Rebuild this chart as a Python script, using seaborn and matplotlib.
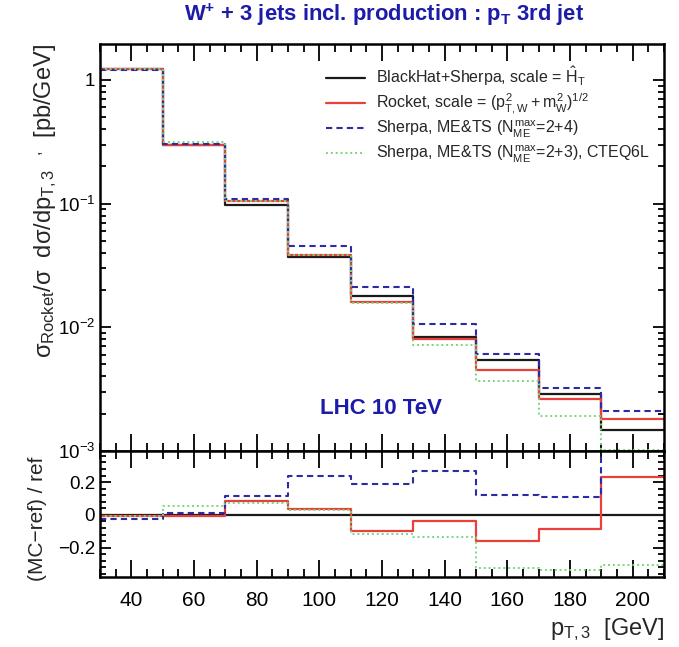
import numpy as np
import pandas as pd
import matplotlib
matplotlib.use("Agg")
import matplotlib.pyplot as plt
import seaborn as sns
from matplotlib.ticker import MultipleLocator, LogLocator, NullFormatter, FixedLocator, FixedFormatter

# p_T of the third jet: bin edges [GeV]
bin_edges = [30, 50, 70, 90, 110, 130, 150, 170, 190, 210]

# normalised differential cross sections [pb/GeV]
blackhat = [1.23, 0.298, 0.097, 0.037, 0.0178, 0.0083, 0.0054, 0.0029, 0.00147]
rocket = [1.218, 0.2965, 0.1053, 0.0384, 0.01604, 0.00798, 0.00453, 0.00265, 0.00181]
sherpa_24 = [1.199, 0.301, 0.1084, 0.0458, 0.0212, 0.01054, 0.00607, 0.00322, 0.00209]
sherpa_23 = [1.218, 0.315, 0.104, 0.0381, 0.01577, 0.0072, 0.00365, 0.00193, 0.00102]

series_labels = [
    r"BlackHat+Sherpa, scale = $\hat{H}_T$",
    r"Rocket, scale = $(p^2_{T,W} + m^2_W)^{1/2}$",
    r"Sherpa, ME&TS ($N^{max}_{ME}$=2+4)",
    r"Sherpa, ME&TS ($N^{max}_{ME}$=2+3), CTEQ6L",
]

sns.set_theme(style="ticks")
plt.rcParams["font.family"] = ["Liberation Sans", "DejaVu Sans"]
plt.rcParams["mathtext.fontset"] = "custom"
plt.rcParams["mathtext.rm"] = "Liberation Sans"
plt.rcParams["mathtext.it"] = "Liberation Sans"
plt.rcParams["mathtext.bf"] = "Liberation Sans:bold"

styles = [
    dict(color="#1a1a1a", linestyle="-", linewidth=1.6),
    dict(color="#e8403a", linestyle="-", linewidth=1.6),
    dict(color="#2b2ba6", linestyle=(0, (3, 2)), linewidth=1.5),
    dict(color="#7ad77a", linestyle=(0, (1, 1.5)), linewidth=1.4),
]
all_series = [blackhat, rocket, sherpa_24, sherpa_23]


def step_frame(values):
    vals = list(values) + [values[-1]]
    return pd.DataFrame({"pt": bin_edges, "val": vals})


fig = plt.figure(figsize=(6.79, 6.47), dpi=100)
ax = fig.add_axes([0.1473, 0.303, 0.8306, 0.629])
axr = fig.add_axes([0.1473, 0.108, 0.8306, 0.195], sharex=ax)

ref = np.array(blackhat)
for vals, lab, st in zip(all_series, series_labels, styles):
    sns.lineplot(data=step_frame(vals), x="pt", y="val", ax=ax,
                 drawstyle="steps-post", estimator=None, sort=False,
                 label=lab, **st)
    ratio = (np.array(vals) - ref) / ref
    sns.lineplot(data=step_frame(list(ratio)), x="pt", y="val", ax=axr,
                 drawstyle="steps-post", estimator=None, sort=False,
                 legend=False, **st)

ax.set_yscale("log")
ax.set_xlim(30, 210)
ax.set_ylim(1e-3, 1.95)
axr.set_ylim(-0.38, 0.39)

for a in (ax, axr):
    for sp in a.spines.values():
        sp.set_linewidth(1.8)
        sp.set_color("black")
    a.xaxis.set_major_locator(MultipleLocator(20))
    a.xaxis.set_minor_locator(MultipleLocator(5))
    a.tick_params(which="both", direction="in", top=True, right=True,
                  colors="black", labelsize=13.5, width=1.3)
    a.tick_params(axis="x", which="major", length=12)
    a.tick_params(axis="x", which="minor", length=5.5)
    a.tick_params(axis="y", which="major", length=8)
    a.tick_params(axis="y", which="minor", length=4)
    a.set_xlabel("")
    a.set_ylabel("")

axr.tick_params(axis="x", which="major", labelsize=15, pad=10)

ax.yaxis.set_major_locator(FixedLocator([1e-3, 1e-2, 1e-1, 1]))
ax.yaxis.set_major_formatter(FixedFormatter(["$10^{-3}$", "$10^{-2}$", "$10^{-1}$", "1"]))
ax.yaxis.set_minor_locator(LogLocator(base=10, subs=np.arange(2, 10)))
ax.yaxis.set_minor_formatter(NullFormatter())
plt.setp(ax.get_xticklabels(), visible=False)

axr.yaxis.set_major_locator(FixedLocator([-0.2, 0, 0.2]))
axr.yaxis.set_major_formatter(FixedFormatter(["\u22120.2", "0", "0.2"]))
axr.yaxis.set_minor_locator(MultipleLocator(0.04))

ax.set_ylabel(r"$\sigma_{Rocket}/\sigma\ \ d\sigma/dp_{T,3}\ \ ^{,}$  [pb/GeV]",
              fontsize=17, loc="top")
ax.yaxis.set_label_coords(-0.072, 1.0)
axr.set_ylabel("(MC\u2212ref) / ref", fontsize=15)
axr.yaxis.set_label_coords(-0.094, 0.46)
axr.set_xlabel(r"$p_{T,3}$  [GeV]", fontsize=17, loc="right")
axr.xaxis.set_label_coords(1.0, -0.31)

ax.legend(loc="upper left", bbox_to_anchor=(0.39, 0.965), frameon=False,
          fontsize=11.5, handlelength=2.4, handletextpad=0.7,
          labelspacing=0.2, borderaxespad=0)

ax.text(0.39, 0.09, "LHC 10 TeV", transform=ax.transAxes, color="#1c1ca8",
        fontsize=16, fontweight="bold")

fig.text(0.5655, 0.977,
         r"W$^{\mathbf{+}}$ + 3 jets incl. production : p$_{\mathbf{T}}$ 3rd jet",
         ha="center", va="center", color="#1c1ca8", fontsize=15.8, fontweight="bold")

fig.savefig("out.png", dpi=100, facecolor="white")
